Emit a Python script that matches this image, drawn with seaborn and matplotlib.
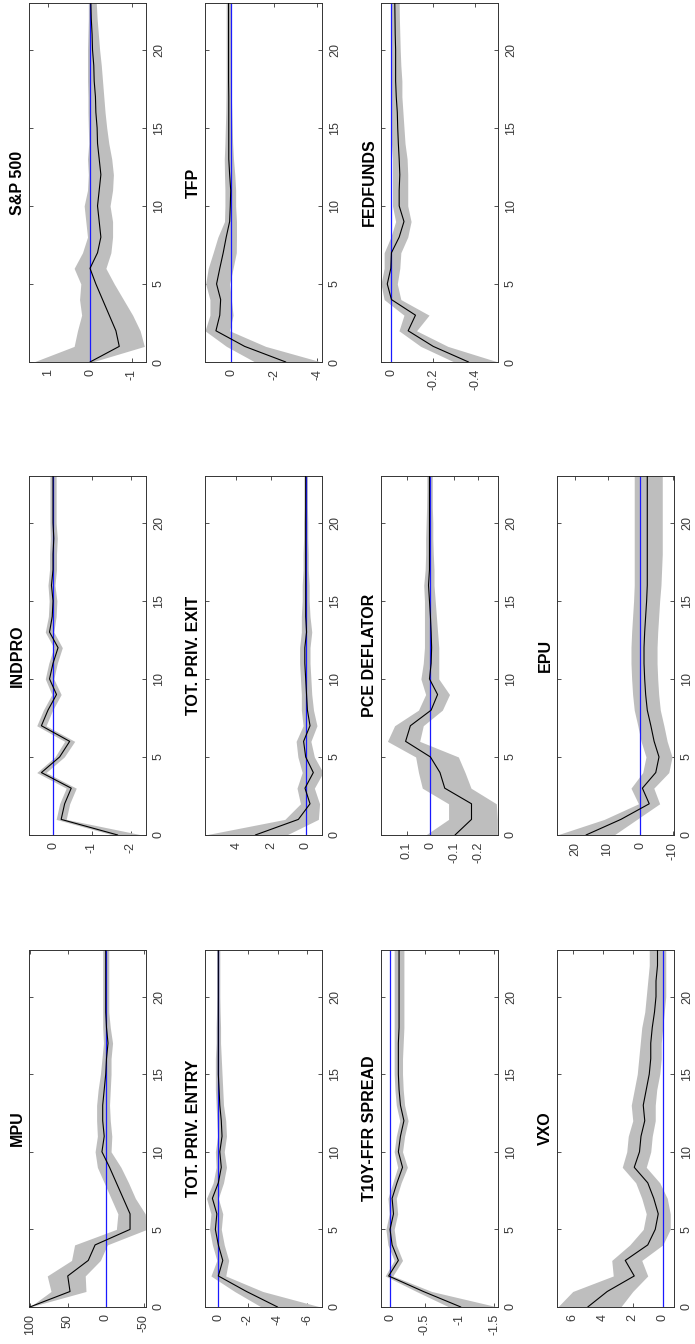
import matplotlib
matplotlib.use("Agg")
import matplotlib.pyplot as plt
import seaborn as sns

# horizons 0..23
HORIZON = list(range(24))
H_TICKS = [0, 5, 10, 15, 20]

# --- data: response, lower band, upper band ---
mpu_irf = [100, 47, 50, 23, 14, -32, -32, -23, -14, -5, 5, 2, 4, 4, 2, 0, -1, -3, -1, 0, 0, 0, 0, 0]
mpu_lo = [100, 26, 27, 7, -2, -54, -52, -39, -30, -20, -7, -8, -6, -5, -6, -7, -7, -9, -6, -4, -4, -4, -4, -4]
mpu_hi = [100, 72, 77, 45, 41, -14, -16, -7, 2, 11, 14, 11, 12, 12, 10, 7, 5, 3, 4, 4, 4, 4, 4, 4]

entry_irf = [-4.0, -1.9, 0.0, -0.3, 0.0, 0.2, 0.1, 0.4, 0.0, -0.2, -0.1, -0.25, -0.2, -0.1, -0.05, 0, 0, 0, 0, 0, 0, 0, 0, 0]
entry_lo = [-6.9, -3.0, -0.5, -0.7, -0.4, -0.2, -0.3, 0.0, -0.35, -0.55, -0.4, -0.55, -0.5, -0.35, -0.3, -0.25, -0.2, -0.15, -0.15, -0.12, -0.1, -0.1, -0.1, -0.1]
entry_hi = [-2.9, -1.1, 0.5, 0.1, 0.4, 0.6, 0.5, 0.8, 0.35, 0.15, 0.2, 0.05, 0.1, 0.15, 0.2, 0.2, 0.2, 0.15, 0.15, 0.12, 0.1, 0.1, 0.1, 0.1]

spread_irf = [-1.02, -0.48, 0.02, -0.12, -0.03, 0.0, -0.05, -0.03, -0.1, -0.18, -0.12, -0.15, -0.2, -0.15, -0.13, -0.12, -0.12, -0.12, -0.13, -0.13, -0.13, -0.13, -0.13, -0.13]
spread_lo = [-1.55, -0.6, -0.04, -0.18, -0.09, -0.06, -0.11, -0.09, -0.16, -0.25, -0.18, -0.21, -0.26, -0.21, -0.19, -0.18, -0.18, -0.19, -0.2, -0.2, -0.2, -0.2, -0.2, -0.2]
spread_hi = [-0.85, -0.38, 0.07, -0.06, 0.03, 0.06, 0.01, 0.03, -0.04, -0.11, -0.06, -0.09, -0.14, -0.09, -0.07, -0.06, -0.06, -0.06, -0.06, -0.06, -0.06, -0.06, -0.06, -0.06]

vxo_irf = [5.0, 3.7, 1.9, 2.5, 1.0, 0.5, 0.3, 0.6, 1.0, 1.9, 1.55, 1.45, 1.2, 1.3, 1.1, 0.9, 0.8, 0.8, 0.7, 0.55, 0.45, 0.45, 0.35, 0.35]
vxo_lo = [2.8, 2.0, 1.0, 1.4, 0.0, -0.5, -0.5, -0.3, 0.2, 1.1, 0.8, 0.7, 0.5, 0.5, 0.4, 0.2, 0.1, 0.1, 0.0, -0.1, -0.2, -0.2, -0.2, -0.2]
vxo_hi = [7.0, 6.0, 3.3, 3.4, 2.2, 1.3, 1.1, 1.4, 1.8, 2.7, 2.4, 2.3, 2.0, 2.1, 1.9, 1.7, 1.6, 1.5, 1.4, 1.2, 1.1, 1.0, 0.9, 0.9]

indpro_irf = [-1.67, -0.21, -0.3, -0.47, 0.3, -0.17, -0.43, 0.3, 0.13, -0.09, 0.09, 0.0, -0.13, 0.09, 0.02, 0.0, 0.04, 0.0, 0.0, -0.02, 0.0, 0.0, 0.0, 0.0]
indpro_lo = [-2.3, -0.34, -0.43, -0.6, 0.18, -0.29, -0.56, 0.18, 0.01, -0.21, -0.02, -0.11, -0.24, -0.02, -0.08, -0.1, -0.05, -0.09, -0.09, -0.11, -0.08, -0.08, -0.08, -0.08]
indpro_hi = [-1.55, -0.08, -0.17, -0.34, 0.42, -0.05, -0.3, 0.42, 0.25, 0.03, 0.2, 0.11, -0.02, 0.2, 0.12, 0.1, 0.13, 0.09, 0.09, 0.07, 0.08, 0.08, 0.08, 0.08]

exit_irf = [2.9, 0.42, -0.25, 0.04, -0.44, 0.0, 0.12, -0.25, -0.1, -0.05, 0.0, 0.05, 0.05, -0.05, 0, 0, 0, 0, 0, 0, 0, 0, 0, 0]
exit_lo = [1.1, -0.73, -0.8, -0.5, -1.0, -0.5, -0.3, -0.65, -0.45, -0.35, -0.3, -0.25, -0.25, -0.35, -0.25, -0.2, -0.2, -0.15, -0.15, -0.12, -0.12, -0.1, -0.1, -0.1]
exit_hi = [5.8, 1.2, 0.3, 0.5, 0.2, 0.45, 0.55, 0.15, 0.25, 0.25, 0.3, 0.35, 0.35, 0.25, 0.25, 0.2, 0.2, 0.15, 0.15, 0.12, 0.12, 0.1, 0.1, 0.1]

pce_irf = [-0.103, -0.172, -0.172, -0.06, -0.04, 0.0, 0.104, 0.084, -0.003, -0.03, 0.004, -0.003, -0.005, -0.003, 0.0, 0.004, 0.008, 0.004, 0.004, 0.004, 0.004, 0.004, 0.004, 0.004]
pce_lo = [-0.28, -0.28, -0.276, -0.17, -0.145, -0.117, 0.045, 0.03, -0.05, -0.08, -0.035, -0.035, -0.035, -0.03, -0.025, -0.02, -0.015, -0.015, -0.012, -0.01, -0.01, -0.008, -0.008, -0.008]
pce_hi = [0.02, -0.076, -0.076, 0.034, 0.05, 0.062, 0.18, 0.15, 0.05, 0.02, 0.04, 0.03, 0.025, 0.025, 0.025, 0.025, 0.028, 0.022, 0.02, 0.02, 0.018, 0.016, 0.015, 0.015]

epu_irf = [16.6, 5.9, -2.8, -0.7, -4.8, -5.8, -4.3, -3.3, -2.2, -1.7, -1.4, -1.2, -1.2, -1.4, -1.7, -2.0, -2.2, -2.2, -2.2, -2.2, -2.2, -2.2, -2.2, -2.2]
epu_lo = [8.0, 1.0, -6.0, -4.2, -8.8, -9.8, -8.3, -7.3, -6.2, -5.7, -5.4, -5.2, -5.2, -5.4, -5.7, -6.0, -6.4, -6.6, -6.8, -6.8, -6.8, -6.8, -6.8, -6.8]
epu_hi = [25.5, 11.0, 0.5, 2.8, -0.8, -1.8, -0.3, 0.7, 1.8, 2.3, 2.6, 2.8, 2.8, 2.6, 2.3, 2.0, 1.8, 1.8, 1.8, 1.8, 1.8, 1.8, 1.8, 1.8]

sp_irf = [0.0, -0.70, -0.62, -0.46, -0.30, -0.14, 0.0, -0.18, -0.26, -0.22, -0.18, -0.22, -0.26, -0.22, -0.18, -0.17, -0.14, -0.13, -0.10, -0.09, -0.06, -0.05, -0.03, -0.02]
sp_lo = [-0.05, -1.30, -1.20, -1.02, -0.80, -0.58, -0.38, -0.50, -0.54, -0.54, -0.48, -0.54, -0.56, -0.52, -0.45, -0.40, -0.36, -0.33, -0.30, -0.27, -0.23, -0.20, -0.17, -0.15]
sp_hi = [1.35, 0.38, 0.30, 0.20, 0.25, 0.22, 0.38, 0.18, 0.06, 0.10, 0.14, 0.06, 0.04, 0.06, 0.03, 0.04, 0.05, 0.05, 0.06, 0.06, 0.06, 0.05, 0.04, 0.04]

tfp_irf = [-2.54, -0.62, 0.72, 0.54, 0.5, 0.69, 0.54, 0.38, 0.24, 0.08, 0.05, 0.03, 0.08, 0.12, 0.12, 0.12, 0.12, 0.12, 0.13, 0.13, 0.13, 0.13, 0.13, 0.13]
tfp_lo = [-4.2, -1.6, 0.08, -0.08, 0.0, 0.08, -0.08, -0.23, -0.24, -0.24, -0.2, -0.2, -0.16, -0.1, -0.06, -0.04, -0.02, 0.0, 0.0, 0.0, 0.0, 0.0, 0.0, 0.0]
tfp_hi = [-1.1, 0.23, 1.23, 1.0, 1.0, 1.2, 1.08, 0.85, 0.63, 0.32, 0.3, 0.3, 0.32, 0.33, 0.3, 0.28, 0.26, 0.25, 0.24, 0.24, 0.24, 0.24, 0.24, 0.24]

ff_irf = [-0.369, -0.2, -0.08, -0.115, 0.0, 0.02, 0.003, 0.0, -0.037, -0.06, -0.037, -0.037, -0.04, -0.037, -0.033, -0.03, -0.028, -0.023, -0.02, -0.02, -0.02, -0.018, -0.017, -0.016]
ff_lo = [-0.51, -0.27, -0.12, -0.18, -0.045, -0.028, -0.04, -0.045, -0.078, -0.094, -0.078, -0.078, -0.078, -0.075, -0.065, -0.06, -0.055, -0.05, -0.05, -0.045, -0.042, -0.04, -0.038, -0.037]
ff_hi = [-0.3, -0.14, -0.036, -0.06, 0.035, 0.05, 0.035, 0.035, 0.003, -0.02, -0.005, -0.005, -0.005, -0.005, 0, 0, 0, 0, 0, 0, 0, 0, 0, 0]

# panel titles, value-axis limits and ticks
titles = ["MPU", "TOT. PRIV. ENTRY", "T10Y-FFR SPREAD", "VXO",
          "INDPRO", "TOT. PRIV. EXIT", "PCE DEFLATOR", "EPU",
          "S&P 500", "TFP", "FEDFUNDS"]
irfs = [mpu_irf, entry_irf, spread_irf, vxo_irf, indpro_irf, exit_irf, pce_irf, epu_irf, sp_irf, tfp_irf, ff_irf]
los = [mpu_lo, entry_lo, spread_lo, vxo_lo, indpro_lo, exit_lo, pce_lo, epu_lo, sp_lo, tfp_lo, ff_lo]
his = [mpu_hi, entry_hi, spread_hi, vxo_hi, indpro_hi, exit_hi, pce_hi, epu_hi, sp_hi, tfp_hi, ff_hi]
val_lims = [(-53, 101), (-7.0, 0.9), (-1.555, 0.13), (-0.75, 7.05),
            (-2.4, 0.62), (-0.94, 5.8), (-0.283, 0.207), (-10.4, 25.5),
            (-1.34, 1.46), (-4.23, 1.23), (-0.51, 0.05)]
val_ticks = [[-50, 0, 50, 100], [-6, -4, -2, 0], [-1.5, -1, -0.5, 0], [0, 2, 4, 6],
             [-2, -1, 0], [0, 2, 4], [-0.2, -0.1, 0, 0.1], [-10, 0, 10, 20],
             [-1, 0, 1], [-4, -2, 0], [-0.4, -0.2, 0]]

# layout of the (rotated) page, in pixels
W, H = 695, 1344
ROW_X = [(29, 146), (205, 322), (381, 498), (557, 674)]
GROUP_Y = [(950, 1307), (476, 835), (3, 362)]
slots = [(0, 0), (1, 0), (2, 0), (3, 0),
         (0, 1), (1, 1), (2, 1), (3, 1),
         (0, 2), (1, 2), (2, 2)]

sns.set_theme(style="white")
plt.rcParams["font.family"] = ["Liberation Sans", "DejaVu Sans"]
plt.rcParams["axes.unicode_minus"] = False

fig = plt.figure(figsize=(W / 100, H / 100), dpi=100)
fig.patch.set_facecolor("white")

for i, name in enumerate(titles):
    row, grp = slots[i]
    x0, x1 = ROW_X[row]
    y0, y1 = GROUP_Y[grp]
    ax = fig.add_axes([x0 / W, 1 - y1 / H, (x1 - x0) / W, (y1 - y0) / H])

    ax.fill_betweenx(HORIZON, los[i], his[i], color="#bebebe", lw=0, zorder=1)
    ax.axvline(0, color="#1a1aff", lw=0.9, zorder=2)
    sns.lineplot(x=irfs[i], y=HORIZON, orient="y", sort=False, estimator=None,
                 color="black", lw=0.8, ax=ax, zorder=3)

    lo, hi = val_lims[i]
    ax.set_xlim(hi, lo)
    ax.set_ylim(0, 23)

    ax.set_xticks(val_ticks[i])
    ax.set_xticklabels([f"{v:g}" for v in val_ticks[i]], rotation=90, va="top", ha="center")
    ax.yaxis.tick_right()
    ax.set_yticks(H_TICKS)
    ax.set_yticklabels([str(v) for v in H_TICKS], rotation=90, va="center", ha="left")
    ax.tick_params(direction="in", length=3, width=0.6, top=True, bottom=True,
                   left=True, right=True, labelsize=9, labelcolor="#3a3a3a",
                   color="#333333", pad=5)
    ax.set_xlabel("")
    ax.set_ylabel("")
    for sp in ax.spines.values():
        sp.set_color("#333333")
        sp.set_linewidth(0.7)

    ax.text(-0.035, 0.5, name, transform=ax.transAxes, rotation=90,
            ha="right", va="center", fontsize=11.5, fontweight="bold", color="black")

fig.savefig("out.png", dpi=100, facecolor="white")
